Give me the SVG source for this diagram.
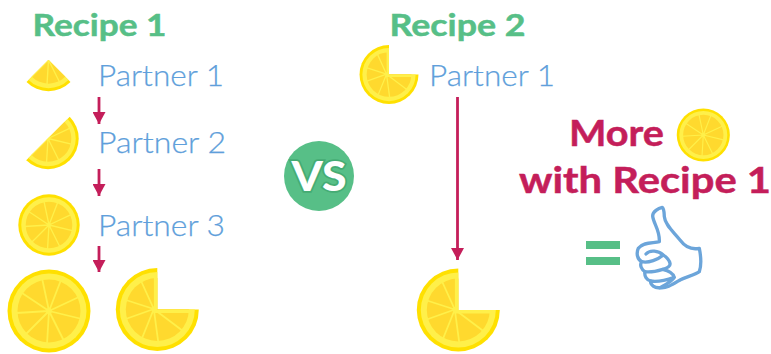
<svg xmlns="http://www.w3.org/2000/svg" width="771" height="354" viewBox="0 0 771 354">
<style>
.h{font-family:"Lato","Liberation Sans",sans-serif;font-weight:700;font-size:31px;fill:#57BF87;stroke:#57BF87;stroke-width:.5}
.p{font-family:"Lato","Liberation Sans",sans-serif;font-weight:300;font-size:29.500px;fill:#5F9FDB;stroke:#5F9FDB;stroke-width:.25}
.m{font-family:"Lato","Liberation Sans",sans-serif;font-weight:700;font-size:37px;fill:#C41E5A;stroke:#C41E5A;stroke-width:.5}
.sp{stroke:#FFF04A;stroke-width:1.800;fill:none}
.arrow{stroke:#C41E5A;stroke-width:2.800;fill:none}
</style>
<defs>
<marker id="ah" markerUnits="userSpaceOnUse" markerWidth="13" markerHeight="13" refX="12" refY="6.500" orient="auto"><path d="M0,0L12,6.500L0,13Z" fill="#C41E5A"/></marker>
<g id="lemon">
<circle r="41.500" fill="#FFE000"/>
<circle r="37.500" fill="#FFF04A"/>
<circle r="31.500" fill="#FFD92E"/>
<path class="sp" d="M0,0L-7,-33M0,0L12,-31M0,0L32,-15M0,0L33,8M0,0L15,30M0,0L-2,33M0,0L-23,23M0,0L-33,2M0,0L-27,-18"/>
<circle r="3" fill="#FFF04A"/>
</g>
<clipPath id="pie"><path d="M-45,-45H0V0H45V45H-45Z"/></clipPath>
<clipPath id="half"><path d="M-45,45L45,-45V45H-45Z"/></clipPath>
<clipPath id="wedge"><path d="M0,0L-60,60H60Z"/></clipPath>
<g id="lemonPie"><g clip-path="url(#pie)">
<circle r="41.500" fill="#FFE000"/>
<circle r="37.500" fill="#FFF04A"/>
<circle r="31.500" fill="#FFD92E"/>
<path d="M-1.700,-33V1.700H33" stroke="#FFF04A" stroke-width="3.400" fill="none"/>
<path class="sp" d="M-3.500,-.5L-16,-28M-3.500,-.5L-33,-10M-3.500,-.5L-33,10M-3.500,-.5L-15,28M-3.500,-.5L1,33M-3.500,-.5L25,21"/>
<circle cx="-3.500" cy="-.5" r="2.500" fill="#FFF04A"/>
</g></g>
<g id="lemonHalf"><g clip-path="url(#half)"><use href="#lemon"/></g></g>
<g id="lemonWedge"><g clip-path="url(#wedge)"><use href="#lemon"/></g></g>
</defs>
<rect width="771" height="354" fill="#fff"/>
<g id="connectors">
<path class="arrow" marker-end="url(#ah)" d="M99,97V124"/>
<path class="arrow" marker-end="url(#ah)" d="M99,169V196"/>
<path class="arrow" marker-end="url(#ah)" d="M99,246V272"/>
<path class="arrow" marker-end="url(#ah)" d="M457.500,97V260"/>
</g>
<g id="recipe1-title"><text class="h" x="32.500" y="36" textLength="134" lengthAdjust="spacingAndGlyphs">Recipe 1</text></g>
<g id="recipe2-title"><text class="h" x="389.500" y="36" textLength="136" lengthAdjust="spacingAndGlyphs">Recipe 2</text></g>
<g id="r1-partner1"><use href="#lemonWedge" transform="translate(48.500,60) scale(.75)"/><text class="p" x="98" y="86" textLength="126" lengthAdjust="spacingAndGlyphs">Partner 1</text></g>
<g id="r1-partner2"><use href="#lemonHalf" transform="translate(48,138.500) scale(.74)"/><text class="p" x="98" y="153" textLength="128" lengthAdjust="spacingAndGlyphs">Partner 2</text></g>
<g id="r1-partner3"><use href="#lemon" transform="translate(49,225) scale(.74)"/><text class="p" x="98" y="236" textLength="127" lengthAdjust="spacingAndGlyphs">Partner 3</text></g>
<g id="r1-result-full"><use href="#lemon" transform="translate(49,311)"/></g>
<g id="r1-result-pie"><use href="#lemonPie" transform="translate(157.300,309.500)"/></g>
<g id="r2-partner1"><use href="#lemonPie" transform="translate(389,74.500) scale(.71)"/><text class="p" x="429" y="86" textLength="126" lengthAdjust="spacingAndGlyphs">Partner 1</text></g>
<g id="r2-result"><use href="#lemonPie" transform="translate(458.300,310)"/></g>
<g id="vs"><circle cx="319" cy="176" r="35" fill="#57BF87"/><text x="291.500" y="191" font-family="Lato,'Liberation Sans',sans-serif" font-weight="900" font-size="41" fill="#fff" stroke="#45AC74" stroke-width="3.500" paint-order="stroke" textLength="55" lengthAdjust="spacingAndGlyphs">VS</text></g>
<g id="more"><text class="m" x="569" y="146" textLength="95" lengthAdjust="spacingAndGlyphs">More</text><use href="#lemon" transform="translate(703.300,135) scale(.64)"/><text class="m" x="519" y="193" textLength="252" lengthAdjust="spacingAndGlyphs">with Recipe 1</text></g>
<g id="equals"><rect x="586" y="241" width="34" height="8" fill="#57BF87"/><rect x="586" y="257" width="34" height="8" fill="#57BF87"/></g>
<g id="thumb" transform="translate(630,200) scale(.3333)" fill="#fff" stroke="#6CA5DA" stroke-width="10" stroke-linejoin="round" stroke-linecap="round">
<path d="M97,22C85,25 68,35 68,48C70,70 90,90 88,125C70,130 40,125 25,145C18,160 22,178 35,185C28,195 35,210 45,215C42,228 50,240 62,243C60,255 75,265 90,263C110,265 125,255 150,240C170,230 195,225 208,215C215,195 212,165 208,145C185,150 165,140 150,120C130,95 105,75 103,50C102,38 103,28 97,22Z"/>
<path fill="none" d="M48,162C60,148 85,152 100,165C110,172 118,180 120,190C122,200 110,205 98,208C115,212 130,220 133,232C125,245 110,252 90,263M35,185C55,190 85,178 100,165M45,215C65,218 85,212 98,208M62,243C80,246 110,240 133,232"/>
</g>
</svg>
